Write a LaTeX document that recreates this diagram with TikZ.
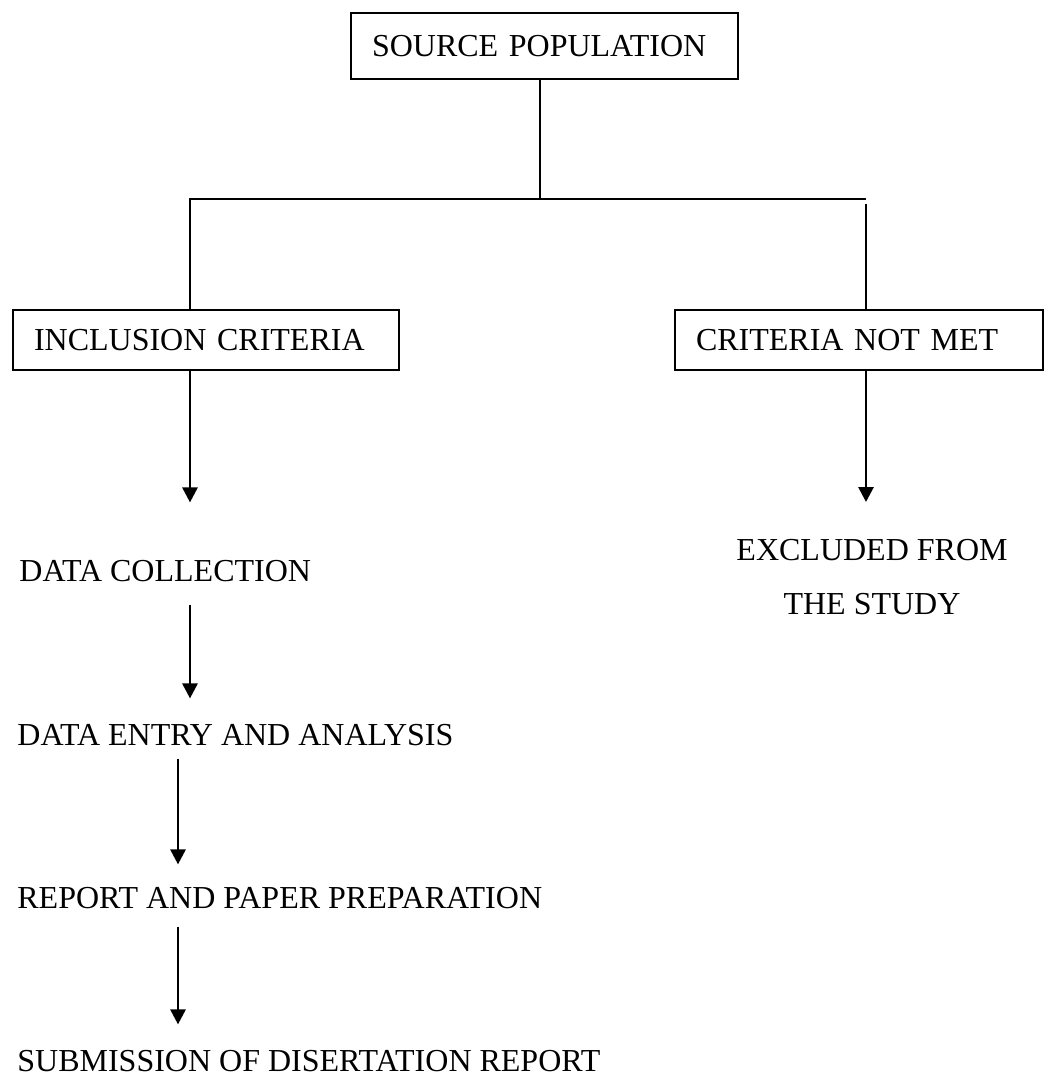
\documentclass[tikz,border=0pt]{standalone}
\usepackage{fontspec}
\setmainfont{Liberation Serif}
\usepackage{tikz}
\usetikzlibrary{arrows.meta}

\begin{document}
\begin{tikzpicture}[x=0.5pt, y=-0.5pt,
    every node/.style={font=\fontsize{16pt}{27pt}\selectfont},
    box/.style={draw, line width=1pt, anchor=north west, inner xsep=10.5pt, inner ysep=2pt, align=left},
    step label/.style={anchor=base west, inner sep=0pt},
    arr/.style={line width=1.4pt, -{Triangle[width=7.5pt, length=7.5pt]}}]
    \useasboundingbox (0,0) rectangle (1046,1075);

    % Draw the boxes
    \node[box, text width=172.5pt, minimum height=33pt] (src) at (350,12) {SOURCE POPULATION};
    \node[box, text width=172pt, minimum height=30pt] (incl) at (12,309) {INCLUSION CRITERIA};
    \node[box, text width=163pt, minimum height=30pt] (cnm) at (674,309) {CRITERIA NOT MET};

    % more labels
    \node[step label] (dc) at (19,581) {DATA COLLECTION};
    \node[step label] (de) at (17,745) {DATA ENTRY AND ANALYSIS};
    \node[step label] (rp) at (17,908) {REPORT AND PAPER PREPARATION};
    \node[step label] (sub) at (17,1071) {SUBMISSION OF DISERTATION REPORT};
    \node[anchor=north, inner sep=0pt, align=center] (ex) at (872,539) {EXCLUDED FROM\\THE STUDY};

    % draw the branches
    \coordinate (j) at (540,199);
    \coordinate (jl) at (190,199);
    \coordinate (jr) at (866,199);
    \coordinate (jr2) at (866,204);
    \coordinate (c2) at (178,0);

    \draw[line width=1pt] (src.south -| j) -- (j);
    \draw[line width=1pt] (incl.north -| jl) -- (jl) -- (jr);
    \draw[line width=1.4pt] (jr2) -- (cnm.north -| jr2);

    % draw arrows
    \draw[arr, shorten >=28.5pt] (incl.south -| jl) -- (dc.north -| jl);
    \draw[arr, shorten <=11.5pt, shorten >=12.5pt] (dc.south -| jl) -- (de.north -| jl);
    \draw[arr, shorten <=6.5pt, shorten >=11pt] (de.south -| c2) -- (rp.north -| c2);
    \draw[arr, shorten <=9pt, shorten >=12.5pt] (rp.south -| c2) -- (sub.north -| c2);
    \draw[arr, shorten >=18.5pt] (cnm.south -| jr) -- (ex.north -| jr);
\end{tikzpicture}
\end{document}
